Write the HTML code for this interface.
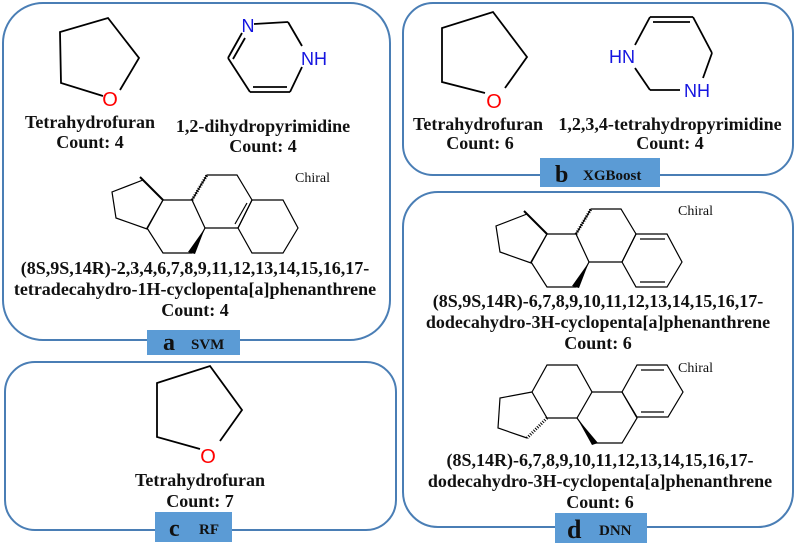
<!DOCTYPE html>
<html><head><meta charset="utf-8"><style>
html,body{margin:0;padding:0;background:#fff}
svg{display:block}
text{font-family:"Liberation Serif",serif;font-weight:bold;font-size:18px;fill:#111}
.h{font-family:"Liberation Sans",sans-serif;font-weight:normal;font-size:17px}
.ch{font-family:"Liberation Serif",serif;font-weight:normal;font-size:14px}
.b{fill:none;stroke:#4a7eb5;stroke-width:2}
.m{fill:none;stroke:#000;stroke-width:1.2}
.mt{fill:none;stroke:#000;stroke-width:1.8}
</style></head><body>
<svg width="796" height="543" viewBox="0 0 796 543">
<!-- boxes -->
<rect class="b" x="3" y="3" width="387" height="337" rx="40"/>
<rect class="b" x="403" y="3" width="390" height="172" rx="30"/>
<rect class="b" x="5" y="362" width="391" height="168" rx="30"/>
<rect class="b" x="403" y="192" width="390" height="335" rx="35"/>

<!-- panel a THF -->
<polyline class="mt" points="103,96 61,83 60,32 108,18 139,58 120,90"/>
<text class="h" x="110" y="106" text-anchor="middle" style="fill:#f00;font-size:20px">O</text>
<text x="90" y="128" text-anchor="middle">Tetrahydrofuran</text>
<text x="90" y="148" text-anchor="middle">Count: 4</text>
<!-- pyrimidine a -->
<g class="mt">
<line x1="254" y1="24" x2="288" y2="22"/>
<line x1="288" y1="22" x2="302" y2="46"/>
<line x1="302" y1="67" x2="290" y2="92"/>
<line x1="290" y1="92" x2="250" y2="92"/>
<line x1="253" y1="87" x2="287" y2="87"/>
<line x1="250" y1="92" x2="228" y2="58"/>
<line x1="228" y1="58" x2="242" y2="33"/>
<line x1="233" y1="59" x2="245" y2="38"/>
</g>
<text class="h" x="248" y="32" text-anchor="middle" style="fill:#1515e0;font-size:18px">N</text>
<text class="h" x="314" y="65" text-anchor="middle" style="fill:#1515e0;font-size:18px">NH</text>
<text x="263" y="132" text-anchor="middle">1,2-dihydropyrimidine</text>
<text x="263" y="152" text-anchor="middle">Count: 4</text>

<!-- steroid a -->
<g class="m">
<polyline points="143,180 112,192 116,218 147,229 163,200"/>
<polygon points="163,200 192,200 205,228 192,253 163,253 147,228"/>
<polyline points="192,200 207,175 237,175 252,200 238,228 205,228"/>
<polygon points="252,200 283,200 298,228 283,253 252,253 238,228"/>
<line x1="247" y1="203" x2="235" y2="224"/>
<path d="M192,200 L207,175" stroke-dasharray="1,1.5" stroke-width="3"/>
</g>
<polygon points="163,200 140,177 146,183 143,180" fill="#000" stroke="#000" stroke-width="2"/>
<polygon points="205,228 188,252 195,254" fill="#000"/>
<text class="ch" x="295" y="182">Chiral</text>
<text x="195" y="274" text-anchor="middle">(8S,9S,14R)-2,3,4,6,7,8,9,11,12,13,14,15,16,17-</text>
<text x="195" y="295" text-anchor="middle">tetradecahydro-1H-cyclopenta[a]phenanthrene</text>
<text x="195" y="316" text-anchor="middle">Count: 4</text>
<rect x="147" y="330" width="93" height="25" fill="#5b9bd5"/>
<text x="163" y="350" style="font-size:24px">a</text>
<text x="191" y="349" style="font-size:15px">SVM</text>

<!-- panel b THF -->
<polyline class="mt" points="485,93 442,82 442,28 493,12 527,57 505,88"/>
<text class="h" x="494" y="108" text-anchor="middle" style="fill:#f00;font-size:20px">O</text>
<text x="478" y="130" text-anchor="middle">Tetrahydrofuran</text>
<text x="480" y="149" text-anchor="middle">Count: 6</text>
<!-- tetrahydropyrimidine -->
<g class="mt">
<line x1="635" y1="45" x2="650" y2="17"/>
<line x1="650" y1="17" x2="693" y2="17"/>
<line x1="653" y1="22" x2="690" y2="22"/>
<line x1="693" y1="17" x2="712" y2="53"/>
<line x1="712" y1="53" x2="703" y2="78"/>
<line x1="680" y1="90" x2="650" y2="90"/>
<line x1="650" y1="90" x2="635" y2="68"/>
</g>
<text class="h" x="622" y="63" text-anchor="middle" style="fill:#1515e0;font-size:18px">HN</text>
<text class="h" x="697" y="97" text-anchor="middle" style="fill:#1515e0;font-size:18px">NH</text>
<text x="670" y="130" text-anchor="middle">1,2,3,4-tetrahydropyrimidine</text>
<text x="670" y="149" text-anchor="middle">Count: 4</text>
<rect x="540" y="158" width="120" height="29" fill="#5b9bd5"/>
<text x="555" y="182" style="font-size:24px">b</text>
<text x="583" y="180" style="font-size:15px">XGBoost</text>

<!-- panel c THF -->
<polyline class="mt" points="200,449 157,437 157,383 210,366 242,410 220,441"/>
<text class="h" x="208" y="463" text-anchor="middle" style="fill:#f00;font-size:20px">O</text>
<text x="200" y="486" text-anchor="middle">Tetrahydrofuran</text>
<text x="200" y="507" text-anchor="middle">Count: 7</text>
<rect x="155" y="512" width="77" height="30" fill="#5b9bd5"/>
<text x="169" y="536" style="font-size:24px">c</text>
<text x="199" y="534" style="font-size:15px">RF</text>

<!-- steroid d1 -->
<g class="m" transform="translate(384,34)">
<polyline points="143,180 112,192 116,218 147,229 163,200"/>
<polygon points="163,200 192,200 205,228 192,253 163,253 147,228"/>
<polyline points="192,200 207,175 237,175 252,200 238,228 205,228"/>
<polygon points="252,200 283,200 298,228 283,253 252,253 238,228"/>
<line x1="256" y1="205" x2="281" y2="205"/>
<line x1="256" y1="248" x2="281" y2="248"/>
<path d="M192,200 L207,175" stroke-dasharray="1,1.5" stroke-width="3"/>
</g>
<polygon points="547,234 524,211 530,217" fill="#000" stroke="#000" stroke-width="2"/>
<polygon points="589,262 572,286 579,288" fill="#000"/>
<text class="ch" x="678" y="215">Chiral</text>
<text x="598" y="307" text-anchor="middle">(8S,9S,14R)-6,7,8,9,10,11,12,13,14,15,16,17-</text>
<text x="598" y="328" text-anchor="middle">dodecahydro-3H-cyclopenta[a]phenanthrene</text>
<text x="598" y="349" text-anchor="middle">Count: 6</text>

<!-- steroid d2 -->
<g class="m">
<polygon points="532,392 547,365 577,365 592,392 577,418 547,418"/>
<polyline points="592,392 622,392 637,418 622,443 595,443 577,418"/>
<polygon points="622,392 637,365 667,365 683,392 668,417 637,417"/>
<line x1="641" y1="370" x2="664" y2="370"/>
<line x1="641" y1="412" x2="664" y2="412"/>
<polyline points="532,392 500,398 498,428 527,438"/>
<path d="M547,418 L527,438" stroke-dasharray="1,1.5" stroke-width="3"/>
</g>
<polygon points="577,418 598,443 592,445" fill="#000"/>
<text class="ch" x="678" y="372">Chiral</text>
<text x="600" y="466" text-anchor="middle">(8S,14R)-6,7,8,9,10,11,12,13,14,15,16,17-</text>
<text x="600" y="487" text-anchor="middle">dodecahydro-3H-cyclopenta[a]phenanthrene</text>
<text x="600" y="508" text-anchor="middle">Count: 6</text>
<rect x="555" y="513" width="92" height="30" fill="#5b9bd5"/>
<text x="567" y="538" style="font-size:26px">d</text>
<text x="599" y="535" style="font-size:15px">DNN</text>
</svg>
</body></html>
